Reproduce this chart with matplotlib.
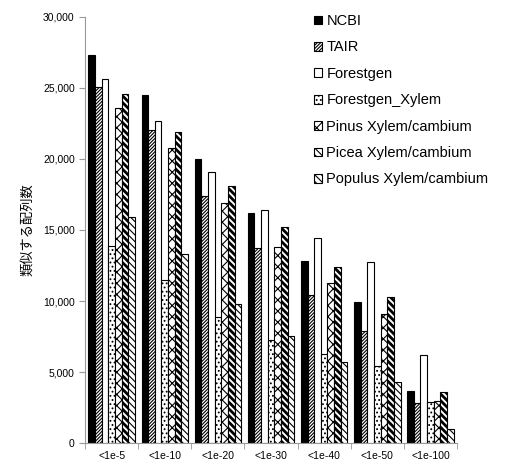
import numpy as np
import matplotlib.pyplot as plt
from matplotlib.ticker import FuncFormatter

plt.rcParams['font.family'] = ['Liberation Sans', 'Noto Sans CJK JP', 'DejaVu Sans']
plt.rcParams['hatch.linewidth'] = 0.8

categories = ['<1e-5', '<1e-10', '<1e-20', '<1e-30', '<1e-40', '<1e-50', '<1e-100']
ncbi = [27300, 24500, 20000, 16200, 12800, 9900, 3700]
tair = [25050, 22000, 17400, 13700, 10400, 7900, 2800]
forestgen = [25600, 22700, 19100, 16400, 14450, 12750, 6200]
forestgen_xylem = [13900, 11500, 8900, 7250, 6300, 5400, 2900]
pinus = [23600, 20800, 16900, 13800, 11300, 9100, 3000]
picea = [24600, 21900, 18100, 15200, 12400, 10250, 3600]
populus = [15900, 13300, 9800, 7550, 5700, 4300, 1000]

# name, values, face colour, hatch, hatch line width
series = [
    ('NCBI', ncbi, 'black', '', 0.8),
    ('TAIR', tair, 'white', '//////////', 0.8),
    ('Forestgen', forestgen, 'white', '', 0.8),
    ('Forestgen_Xylem', forestgen_xylem, 'white', '....', 0.8),
    ('Pinus Xylem/cambium', pinus, 'white', 'xxx', 0.8),
    ('Picea Xylem/cambium', picea, 'white', '\\\\\\\\\\', 2.0),
    ('Populus Xylem/cambium', populus, 'white', '\\\\\\\\\\', 0.8),
]

fig = plt.figure(figsize=(5.32, 4.66), dpi=100)
ax = fig.add_axes([0.16, 0.049, 0.699, 0.915])

x = np.arange(len(categories))
w = 0.125
for i, (name, vals, fc, hatch, hlw) in enumerate(series):
    bars = ax.bar(x - 3 * w + i * w, vals, w, color=fc, edgecolor='black',
                  linewidth=0.8, hatch=hatch, label=name)
    for b in bars:
        try:
            b.set_hatch_linewidth(hlw)
        except AttributeError:
            pass

ax.set_xlim(-0.5, len(categories) - 0.5)
ax.set_ylim(0, 30000)
ax.set_yticks(np.arange(0, 30001, 5000))
ax.yaxis.set_major_formatter(FuncFormatter(lambda v, p: f'{int(v):,}'))
ax.set_xticks(x)
ax.set_xticklabels(categories)
ax.set_xticks(np.arange(-0.5, len(categories), 1), minor=True)
ax.tick_params(axis='x', which='major', length=0, labelsize=7.5, pad=6)
ax.tick_params(axis='x', which='minor', length=4, color='#999999')
ax.tick_params(axis='y', length=4, color='#999999', labelsize=7.5)

for s in ['top', 'right']:
    ax.spines[s].set_visible(False)
for s in ['left', 'bottom']:
    ax.spines[s].set_color('#999999')

ax.set_ylabel('類似する配列数', fontsize=9.5, labelpad=6)

leg = ax.legend(loc='upper left', bbox_to_anchor=(0.6, 1.02), frameon=False,
                fontsize=10.5, handlelength=0.55, handleheight=0.55, handletextpad=0.3,
                labelspacing=0.85, borderaxespad=0)

fig.savefig('out.png', dpi=100)
